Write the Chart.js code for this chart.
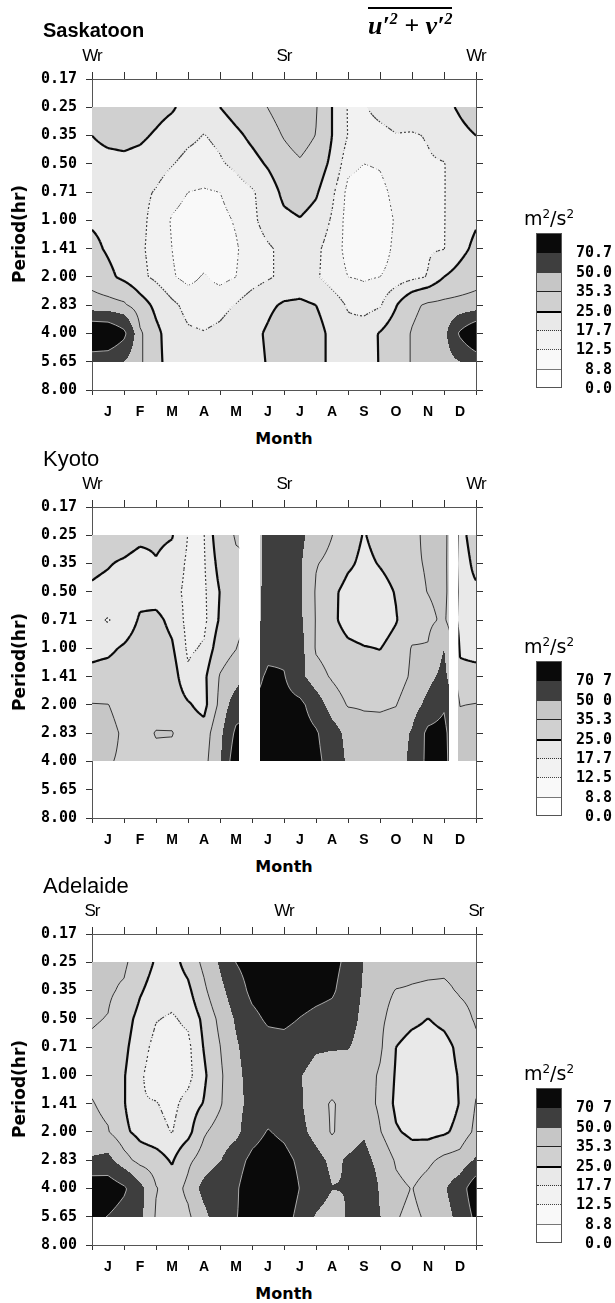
<!DOCTYPE html>
<html><head><meta charset="utf-8">
<script src="https://cdn.jsdelivr.net/npm/chart.js@4.4.1/dist/chart.umd.min.js"></script>
<style>
body{margin:0;background:#fff;}
#wrap{position:relative;width:615px;height:1303px;overflow:hidden;background:#fff;}
canvas{position:absolute;left:0;}
.t{position:absolute;white-space:nowrap;color:#000;line-height:1;}
.c{transform:translate(-50%,-50%);}
</style></head><body><div id="wrap"></div>
<script>
// ---------- axis labels ----------
const months = ['J','F','M','A','M','J','J','A','S','O','N','D'];
const periodLabels = ['0.17','0.25','0.35','0.50','0.71','1.00','1.41','2.00','2.83','4.00','5.65','8.00'];
const levels = [8.8, 12.5, 17.7, 25.0, 35.3, 50.0, 70.7];
const monthNodes = [0,0.5,1,1.5,2,2.5,3,3.5,4,4.5,5,5.5,6,6.5,7,7.5,8,8.5,9,9.5,10,10.5,11,11.5,12];

// ---------- Saskatoon (rows = period, columns = monthNodes) ----------
const sasPeriods = ['0.25','0.35','0.50','0.71','1.00','1.41','2.00','2.83','4.00','5.65'];
const sas_025 = [29,30,30,30,28,26,22,21,25,29,32,35.5,40,42,36,25,17.3,17.4,19,20,21,21.5,23,26,29];
const sas_035 = [25,27,27.5,26.5,24,21,19,17.5,19,23,27,31,36,40,35,25,17.5,16,16.5,17.5,17.2,18,20,23,25];
const sas_050 = [22,22.5,23,22,20,18,16,15.5,17,19,22,26,31,34,30,23,14,12.5,13,15.5,16.8,17.2,17.5,20.5,22];
const sas_071 = [22,22,21,19,17.3,14.5,12.5,12,12.5,15,17,20.5,27,29,26,19,11,10,11,14,16,16.8,17.5,20.5,22];
const sas_100 = [24,23,21,19,16,12,10.5,10,11,13,16.5,20,23,24.5,22,17,10.5,9.5,10,13,16,16.8,17.5,21,24];
const sas_141 = [27,24,21,18.5,16,12.5,10,9.5,10,12,15,17,19,20,19,15,11,10,10.5,13.5,16,17,17.5,22.5,27];
const sas_200 = [31,27,23,19,16.5,13,11,13,11,12.5,15,17,19,20,18.5,15,12.5,12,12.5,14,16,18,25,28,31];
const sas_283 = [40,39,37,29,23,19,16,15,16,18,21,23.5,26,26.5,25,21,17,15,17,24.5,33,37,38,39,40];
const sas_400 = [94,92,76,37,27,21,18.5,18,19,21,23,26,30,31,28,23,20,22,25.5,30,36,40,45,74,94];
const sas_565 = [58,57,50,37,27,22,19,18.5,19,20,22.5,25.5,30,31,28,23,20,21,25.5,30,36,40,43,50,58];

// ---------- Kyoto ----------
const kyoPeriods = ['0.25','0.35','0.50','0.71','1.00','1.41','2.00','2.83','4.00'];
const kyoGaps = [[4.6, 5.25], [11.15, 11.45]];
const kyo_025 = [28,28.5,29,27,26.5,25.5,17.5,17.5,31,36,36,58,62,54,42,35.5,29,24.5,28,30,33,37.5,38,23,28];
const kyo_035 = [26.5,25.5,24,22,24.5,22,16.5,17,28,34,36,58,62,52,36,32,26.5,23,25.5,28,34,36,38,22,26.5];
const kyo_050 = [24,23,21,22.5,21.5,20,16,16.5,25.2,28,36,60,63,52,34,27,22,21,22,25.5,33,35.5,38,23,24];
const kyo_071 = [19,17.2,20,26,27,23,15.5,16,26,30,36,62,64,53,34.5,27,21.5,20,21,24.5,30,33,37,22,19];
const kyo_100 = [23,23.5,26,29,29,26,16.5,18.5,30,35,45,64,66,56,34,30,27,25.5,24.8,28,36,36,50,24,23];
const kyo_141 = [27,28,29,30,30,29,19,23,36,42,60,75,72,55,40,34,29,28,28.5,30,37,45,55,27,27];
const kyo_200 = [35.8,35.5,32,30,31,30,26,22,38,60,72,80,78,76,60,42,34.5,34,34,35,42,55,68,35,35.8];
const kyo_283 = [40,38,34,32,35.8,35.8,30,29,45,75,78,85,84,80,73,58,45,40,39,40,52,76,78,40,40];
const kyo_400 = [40,36,34,33,33,32,31,31,48,85,82,88,86,82,76,62,47,40,38,40,55,76,80,40,40];

// ---------- Adelaide ----------
const adePeriods = ['0.25','0.35','0.50','0.71','1.00','1.41','2.00','2.83','4.00','5.65'];
const ade_025 = [38,37,37,30,24,22,28,38,52,71,80,85,85,85,82,78,65,49,42,40,38,37.5,37,37.5,38];
const ade_035 = [37,36.5,34,26,21,20,23,33,45,60,76,82,84,82,78,74,60,48,38,35,34.5,34,34,36,37];
const ade_050 = [36,35,29,22,18,17,19,27,38,52,65,74,76,70,65,62,58,45,37,32,28,24.8,28,33,36];
const ade_071 = [34,33,27,20,16,15.5,16,25.5,35,48,58,62,62,58,52,51,51,43,37,25,20,19.5,21,28,34];
const ade_100 = [33,31,25.5,18.5,15,14.5,15.5,23.5,33,46,56,60,58,51,44,43,42,40,34,24,19.5,19,20,26,33];
const ade_141 = [35.8,33,25.5,18,18,16,20,25.5,34,45,55,60,58,52,40,34,40,41,33,23,19.5,19,19.5,25.5,35.8];
const ade_200 = [38,36,27,22,19.5,17.5,22,34,40,45,62,72,66,55,44,34,42,48,36,26,23,22,23.5,28,38];
const ade_283 = [52,55,40,31,29,24,33,40,49,62,76,82,78,66,56,46,52,56,44,34,30,33,38,40,52];
const ade_400 = [86,84,74,55,36,30,38,56,66,68,84,88,86,70,62,50.5,50.5,68,48,38,35,40,48,60,86];
const ade_565 = [76,70,62,54,34,30,33,45,62,70,78,82,80,64,48,40,52,62,50.5,36,33,37,44,55,76];

// ---------- legend labels ----------
const sasLegend = ['70.7','50.0','35.3','25.0','17.7','12.5','8.8','0.0'];
const kyoLegend = ['70 7','50 0','35.3','25.0','17.7','12.5','8.8','0.0'];
const adeLegend = ['70 7','50.0','35.3','25.0','17.7','12.5','8.8','0.0'];

// ---------- styles ----------
const fillRGB = [[255,255,255],[249,249,249],[242,242,242],[233,233,233],[208,208,208],[198,198,198],[62,62,62],[10,10,10]];
const lineStyles = [
  {k:0, width:1, color:'#777', dotted:false},
  {k:1, width:1, color:'#666', dotted:true},
  {k:2, width:1.2, color:'#444', dotted:true},
  {k:3, width:2.2, color:'#0a0a0a', dotted:false},
  {k:4, width:1, color:'#333', dotted:false},
  {k:6, width:1, color:'#aaa', dotted:false}
];
const legendSep = {0:'1px solid #777',1:'1px dotted #444',2:'1px dotted #333',3:'2px solid #000',4:'1px solid #222'};

function bilinear(cfg, mx, yi) {
  const cols = cfg.cols, rows = cfg.rowIdx, g = cfg.grid;
  const nC = cols.length, nR = rows.length;
  let i = 0; while (i < nC - 2 && cols[i + 1] < mx) i++;
  let j = 0; while (j < nR - 2 && rows[j + 1] < yi) j++;
  const tx = Math.min(1, Math.max(0, (mx - cols[i]) / (cols[i + 1] - cols[i])));
  const ty = Math.min(1, Math.max(0, (yi - rows[j]) / (rows[j + 1] - rows[j])));
  const a = g[j][i], b = g[j][i + 1], c = g[j + 1][i], d = g[j + 1][i + 1];
  return (a * (1 - tx) + b * tx) * (1 - ty) + (c * (1 - tx) + d * tx) * ty;
}
function inGap(cfg, mx) {
  for (const gp of cfg.gaps) if (mx > gp[0] && mx < gp[1]) return true;
  return false;
}

const contourPlugin = {
  id: 'contour',
  beforeDatasetsDraw(chart) {
    const cfg = chart.options.plugins.contour;
    if (!cfg || !cfg.grid) return;
    const ctx = chart.ctx, x = chart.scales.x, y = chart.scales.y;
    const px0 = Math.round(x.getPixelForValue(cfg.cols[0]));
    const px1 = Math.round(x.getPixelForValue(cfg.cols[cfg.cols.length - 1]));
    const py0 = Math.round(y.getPixelForValue(cfg.rowIdx[0]));
    const py1 = Math.round(y.getPixelForValue(cfg.rowIdx[cfg.rowIdx.length - 1]));
    const w = px1 - px0, h = py1 - py0;
    const img = ctx.getImageData(px0, py0, w, h);
    for (let py = 0; py < h; py++) {
      const yi = y.getValueForPixel(py0 + py + 0.5);
      for (let px = 0; px < w; px++) {
        const mx = x.getValueForPixel(px0 + px + 0.5);
        if (inGap(cfg, mx)) continue;
        const v = bilinear(cfg, mx, yi);
        let k = 0; while (k < levels.length && v >= levels[k]) k++;
        const col = fillRGB[k], o = (py * w + px) * 4;
        img.data[o] = col[0]; img.data[o + 1] = col[1]; img.data[o + 2] = col[2]; img.data[o + 3] = 255;
      }
    }
    ctx.putImageData(img, px0, py0);

    // contour lines (marching squares through scale values)
    const s = 2;
    const nx = Math.ceil(w / s), ny = Math.ceil(h / s);
    const XP = [], YP = [], V = [];
    for (let i = 0; i <= nx; i++) XP.push(px0 + Math.min(i * s, w));
    for (let j = 0; j <= ny; j++) YP.push(py0 + Math.min(j * s, h));
    for (let j = 0; j <= ny; j++) {
      const yi = y.getValueForPixel(YP[j]); const row = [];
      for (let i = 0; i <= nx; i++) row.push(bilinear(cfg, x.getValueForPixel(XP[i]), yi));
      V.push(row);
    }
    ctx.save();
    ctx.beginPath();
    let start = cfg.cols[0];
    const segs = [];
    for (const gp of cfg.gaps) { segs.push([start, gp[0]]); start = gp[1]; }
    segs.push([start, cfg.cols[cfg.cols.length - 1]]);
    for (const sg of segs) {
      const a = x.getPixelForValue(sg[0]), b = x.getPixelForValue(sg[1]);
      ctx.rect(a, py0, b - a, h);
    }
    ctx.clip();
    ctx.lineCap = 'butt';
    for (const st of lineStyles) {
      const L = levels[st.k];
      ctx.beginPath();
      for (let j = 0; j < ny; j++) {
        for (let i = 0; i < nx; i++) {
          if (st.dotted && ((i + j) % 2 !== 0)) continue;
          const a = V[j][i], b = V[j][i + 1], c = V[j + 1][i + 1], d = V[j + 1][i];
          const xa = XP[i], xb = XP[i + 1], ya = YP[j], yb = YP[j + 1];
          const pts = {};
          if ((a >= L) !== (b >= L)) { const t = (L - a) / (b - a); pts.T = [xa + t * (xb - xa), ya]; }
          if ((b >= L) !== (c >= L)) { const t = (L - b) / (c - b); pts.R = [xb, ya + t * (yb - ya)]; }
          if ((d >= L) !== (c >= L)) { const t = (L - d) / (c - d); pts.B = [xa + t * (xb - xa), yb]; }
          if ((a >= L) !== (d >= L)) { const t = (L - a) / (d - a); pts.Lf = [xa, ya + t * (yb - ya)]; }
          const keys = Object.keys(pts);
          if (keys.length === 2) {
            ctx.moveTo(pts[keys[0]][0], pts[keys[0]][1]); ctx.lineTo(pts[keys[1]][0], pts[keys[1]][1]);
          } else if (keys.length === 4) {
            const cen = (a + b + c + d) / 4;
            let pairs;
            if ((cen >= L) === (a >= L)) pairs = [['T', 'R'], ['B', 'Lf']]; else pairs = [['Lf', 'T'], ['R', 'B']];
            for (const p of pairs) { ctx.moveTo(pts[p[0]][0], pts[p[0]][1]); ctx.lineTo(pts[p[1]][0], pts[p[1]][1]); }
          }
        }
      }
      ctx.lineWidth = st.width; ctx.strokeStyle = st.color; ctx.stroke();
    }
    ctx.restore();
  }
};

// ---------- page ----------
const wrap = document.getElementById('wrap');
const panelTops = [79, 507, 934];
function addText(html, x, y, css, center = true) {
  const d = document.createElement('div');
  d.className = 't' + (center ? ' c' : '');
  d.innerHTML = html; d.style.cssText += css;
  d.style.left = x + 'px'; d.style.top = y + 'px';
  wrap.appendChild(d); return d;
}
const stations = [
  {name: 'Saskatoon', weight: 'bold', size: 20, marks: ['Wr', 'Sr', 'Wr'], periods: sasPeriods, gaps: [],
   grid: [sas_025, sas_035, sas_050, sas_071, sas_100, sas_141, sas_200, sas_283, sas_400, sas_565], legend: sasLegend},
  {name: 'Kyoto', weight: 'normal', size: 22, marks: ['Wr', 'Sr', 'Wr'], periods: kyoPeriods, gaps: kyoGaps,
   grid: [kyo_025, kyo_035, kyo_050, kyo_071, kyo_100, kyo_141, kyo_200, kyo_283, kyo_400], legend: kyoLegend},
  {name: 'Adelaide', weight: 'normal', size: 22, marks: ['Sr', 'Wr', 'Sr'], periods: adePeriods, gaps: [],
   grid: [ade_025, ade_035, ade_050, ade_071, ade_100, ade_141, ade_200, ade_283, ade_400, ade_565], legend: adeLegend}
];
const xTicks = monthNodes.map(v => ({value: v}));
const x2Ticks = monthNodes.filter(v => Number.isInteger(v)).map(v => ({value: v}));
const yTicks = periodLabels.map((p, i) => ({value: i}));

stations.forEach((st, p) => {
  const A = panelTops[p];
  const cv = document.createElement('canvas');
  cv.width = 615; cv.height = 427; cv.style.top = (A - 79) + 'px';
  wrap.appendChild(cv);
  const tickFont = {family: 'DejaVu Sans Mono', size: 15, weight: 'bold'};
  new Chart(cv, {
    type: 'scatter',
    data: {datasets: [{data: [], pointRadius: 0}]},
    options: {
      responsive: false, animation: false, devicePixelRatio: 1,
      layout: {padding: 0},
      plugins: {legend: {display: false}, tooltip: {enabled: false},
        contour: {grid: st.grid, cols: monthNodes, rowIdx: st.periods.map(q => periodLabels.indexOf(q)), gaps: st.gaps}},
      scales: {
        x: {type: 'linear', position: 'bottom', min: 0, max: 12, display: true, z: 1,
          afterFit: s => { s.height = 37; },
          afterBuildTicks: s => { s.ticks = xTicks.map(t => ({value: t.value})); },
          ticks: {autoSkip: false, maxRotation: 0, padding: 9, color: '#000',
            font: {family: 'Liberation Sans', size: 14, weight: 'bold'},
            callback: v => Number.isInteger(v) ? '' : months[Math.floor(v)]},
          grid: {drawOnChartArea: false, tickLength: 5, lineWidth: 1,
            tickColor: c => (c.tick && Number.isInteger(c.tick.value)) ? '#333' : 'rgba(0,0,0,0)'},
          border: {display: true, color: '#555', width: 1}},
        x2: {type: 'linear', position: 'top', min: 0, max: 12, display: true, z: 1,
          afterFit: s => { s.height = 79; },
          afterBuildTicks: s => { s.ticks = x2Ticks.map(t => ({value: t.value})); },
          ticks: {display: false},
          grid: {drawOnChartArea: false, tickLength: 7, lineWidth: 1, tickColor: '#333'},
          border: {display: true, color: '#555', width: 1}},
        y: {type: 'linear', position: 'left', min: 0, max: 11, reverse: true, display: true, z: 1,
          afterFit: s => { s.width = 92; },
          afterBuildTicks: s => { s.ticks = yTicks.map(t => ({value: t.value})); },
          ticks: {padding: 9, color: '#000', font: tickFont, callback: v => periodLabels[v]},
          grid: {drawOnChartArea: false, tickLength: 6, lineWidth: 1, tickColor: '#333'},
          border: {display: true, color: '#555', width: 1}},
        y2: {type: 'linear', position: 'right', min: 0, max: 11, reverse: true, display: true, z: 1,
          afterFit: s => { s.width = 139; },
          afterBuildTicks: s => { s.ticks = yTicks.map(t => ({value: t.value})); },
          ticks: {display: false},
          grid: {drawOnChartArea: false, tickLength: 7, lineWidth: 1, tickColor: '#333'},
          border: {display: true, color: '#555', width: 1}}
      }
    },
    plugins: [contourPlugin]
  });

  // titles and labels
  addText(st.name, 43, A - 50 - st.size * 0.5, `font:${st.weight} ${st.size}px 'Liberation Sans';`, false);
  [92, 284, 476].forEach((xx, i) => addText(st.marks[i], xx, A - 23, "font:17px 'Liberation Sans';letter-spacing:-1px;"));
  addText('Period(hr)', 19, A + 155, "font:bold 17px 'DejaVu Sans';transform:translate(-50%,-50%) rotate(-90deg);", false);
  addText('Month', 284, A + 359, "font:bold 16px 'DejaVu Sans';");
  addText('m<sup style="font-size:12px;vertical-align:7px">2</sup>/s<sup style="font-size:12px;vertical-align:7px">2</sup>', 549, A + 139, "font:19px 'DejaVu Sans';");

  // legend colour bar
  const box = document.createElement('div');
  box.style.cssText = `position:absolute;left:536px;top:${A + 154}px;width:26px;height:155px;border:1px solid #555;box-sizing:border-box;overflow:hidden;`;
  const ch = 155 / 8;
  for (let k = 0; k < 8; k++) {
    const cell = document.createElement('div');
    const lv = 7 - k; const col = fillRGB[lv];
    cell.style.cssText = `position:absolute;left:0;right:0;top:${k * ch}px;height:${ch + 0.5}px;background:rgb(${col[0]},${col[1]},${col[2]});`;
    box.appendChild(cell);
  }
  for (let k = 0; k < 7; k++) {
    const lv = 6 - k;
    if (legendSep[lv]) {
      const sep = document.createElement('div');
      sep.style.cssText = `position:absolute;left:0;right:0;top:${(k + 1) * ch - 1}px;height:0;border-top:${legendSep[lv]};`;
      box.appendChild(sep);
    }
  }
  wrap.appendChild(box);
  st.legend.forEach((lab, k) => {
    addText(lab, 612, A + 154 + (k + 1) * ch, "font:bold 15px 'DejaVu Sans Mono';transform:translate(-100%,-50%);", false);
  });
});

// formula
addText('u′<sup style="font-size:16px;vertical-align:10px">2</sup> + v′<sup style="font-size:16px;vertical-align:10px">2</sup>', 368, 7,
  "font:italic bold 26px 'Liberation Serif';border-top:2px solid #000;padding-top:1px;", false);
</script></body></html>
